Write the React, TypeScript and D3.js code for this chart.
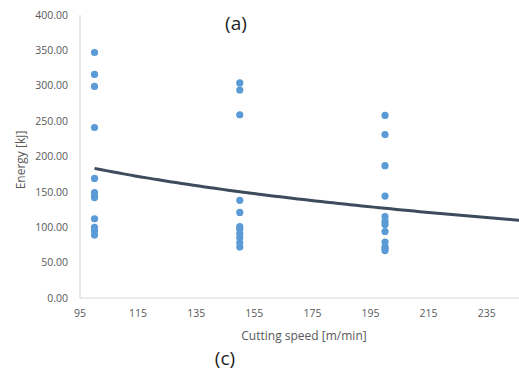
import React from "react";
import * as d3 from "d3";

// Measured energy at each cutting speed
const speeds100 = [347, 316, 299, 241, 169, 149, 145, 142, 112, 100, 95, 89];
const speeds150 = [304, 294, 259, 138, 121, 101, 97, 91, 85, 78, 72];
const speeds200 = [258, 231, 187, 144, 115, 108, 104, 94, 79, 72, 70, 67];
const cuttingSpeeds = [100, 150, 200];
const energyBySpeed = [speeds100, speeds150, speeds200];

const xTicks = [95, 115, 135, 155, 175, 195, 215, 235];
const yTicks = [0, 50, 100, 150, 200, 250, 300, 350, 400];

const W = 519;
const H = 375;

export default function App() {
  const x = d3.scaleLinear().domain([95, 255]).range([80, 80 + 160 * 2.905]);
  const y = d3.scaleLinear().domain([0, 400]).range([298, 15]);

  const points = cuttingSpeeds.flatMap((s, i) =>
    energyBySpeed[i].map((e) => ({ s, e }))
  );

  // Logarithmic least-squares trend: E = a + b ln(v)
  const lx = points.map((p) => Math.log(p.s));
  const mx = d3.mean(lx) as number;
  const my = d3.mean(points, (p) => p.e) as number;
  let sxy = 0;
  let sxx = 0;
  points.forEach((p, i) => {
    sxy += (lx[i] - mx) * (p.e - my);
    sxx += (lx[i] - mx) * (lx[i] - mx);
  });
  const b = sxy / sxx;
  const a = my - b * mx;
  const trendX = d3.range(100, 251, 2);
  const trend = d3
    .line<number>()
    .x((v) => x(v))
    .y((v) => y(a + b * Math.log(v)));

  const font = "'Open Sans', 'Liberation Sans', sans-serif";

  return (
    <svg
      width={W}
      height={H}
      style={{ position: "absolute", left: 0, top: 0, background: "#fff" }}
    >
      <line x1={80} x2={80} y1={15} y2={298} stroke="#d9d9d9" strokeWidth={1.2} />
      <line x1={80} x2={W} y1={298} y2={298} stroke="#d9d9d9" strokeWidth={1.2} />

      {yTicks.map((t) => (
        <text
          key={t}
          x={68}
          y={y(t)}
          dy="0.35em"
          textAnchor="end"
          fontFamily={font}
          fontSize={10.5}
          fill="#595959"
        >
          {t.toFixed(2)}
        </text>
      ))}
      {xTicks.map((t) => (
        <text
          key={t}
          x={x(t)}
          y={313}
          dy="0.35em"
          textAnchor="middle"
          fontFamily={font}
          fontSize={10.5}
          fill="#595959"
        >
          {t}
        </text>
      ))}

      {points.map((p, i) => (
        <circle key={i} cx={x(p.s)} cy={y(p.e)} r={3.6} fill="#5b9bd5" />
      ))}

      <path
        d={trend(trendX) || ""}
        fill="none"
        stroke="#3d4b5c"
        strokeWidth={3}
      />

      <text
        x={304}
        y={336}
        dy="0.35em"
        textAnchor="middle"
        fontFamily={font}
        fontSize={12}
        fill="#595959"
      >
        Cutting speed [m/min]
      </text>
      <text
        transform="translate(21,160) rotate(-90)"
        dy="0.35em"
        textAnchor="middle"
        fontFamily={font}
        fontSize={12}
        fill="#595959"
      >
        Energy [kJ]
      </text>

      <text x={236} y={30} textAnchor="middle" fontFamily={font} fontSize={19} fill="#222">
        (a)
      </text>
      <text x={225} y={365} textAnchor="middle" fontFamily={font} fontSize={19} fill="#222">
        (c)
      </text>
    </svg>
  );
}
